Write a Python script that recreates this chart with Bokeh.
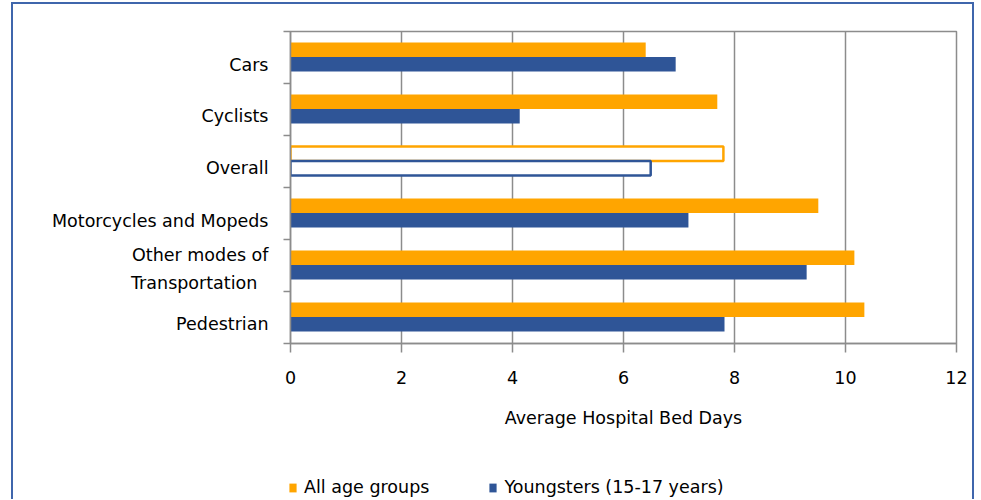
from bokeh.plotting import figure
from bokeh.layouts import column
from bokeh.models import Range1d, FixedTicker, Legend, LegendItem
from bokeh.embed import file_html
from bokeh.resources import INLINE

categories = ["Cars", "Cyclists", "Overall", "Motorcycles and Mopeds",
              "Other modes of Transportation", "Pedestrian"]
all_ages = [6.40, 7.69, 7.80, 9.51, 10.16, 10.34]
youngsters = [6.94, 4.13, 6.49, 7.17, 9.30, 7.82]
y_tick_labels = ["Cars", "Cyclists", "Overall", "Motorcycles and Mopeds",
                 "Other modes of", "Transportation\u00a0\u00a0", "Pedestrian"]
y_tick_pos = [0.635, 1.63, 2.63, 3.65, 4.29, 4.83, 5.63]
x_ticks = [0, 2, 4, 6, 8, 10, 12]
series_names = ["All age groups", "Youngsters (15-17 years)"]

ORANGE = "#FFA500"
BLUE = "#2F5597"
GRAY = "#8c8c8c"
BORDER = "#3F66AC"
FONT = "DejaVu Sans"
FS = "17.5px"

p = figure(width=963, height=441, output_backend="svg", toolbar_location=None,
           x_range=Range1d(0, 12), y_range=Range1d(6, 0),
           min_border_left=279, min_border_right=18, min_border_top=29,
           min_border_bottom=100, frame_width=666, frame_height=312)

n = len(categories)
idx_fill = [i for i in range(n) if categories[i] != "Overall"]
idx_out = [i for i in range(n) if categories[i] == "Overall"]

p.hbar(y=[i + 0.35 for i in idx_fill], right=[all_ages[i] for i in idx_fill], left=0,
       height=0.28, fill_color=ORANGE, line_color=None)
p.hbar(y=[i + 0.63 for i in idx_fill], right=[youngsters[i] for i in idx_fill], left=0,
       height=0.28, fill_color=BLUE, line_color=None)
p.hbar(y=[i + 0.35 for i in idx_out], right=[all_ages[i] for i in idx_out], left=0,
       height=0.28, fill_color="white", line_color=ORANGE, line_width=2.5)
p.hbar(y=[i + 0.63 for i in idx_out], right=[youngsters[i] for i in idx_out], left=0,
       height=0.28, fill_color="white", line_color=BLUE, line_width=2.5)

# grid / outline
p.xgrid.grid_line_color = GRAY
p.xgrid.grid_line_width = 1.5
p.ygrid.grid_line_color = None
p.outline_line_color = GRAY
p.outline_line_width = 1.5
p.background_fill_color = "white"
p.border_fill_color = None

# x axis
xa = p.xaxis[0]
xa.ticker = FixedTicker(ticks=x_ticks)
xa.axis_line_color = GRAY
xa.axis_line_width = 1.5
xa.major_tick_line_color = GRAY
xa.major_tick_line_width = 1.5
xa.major_tick_in = 0
xa.major_tick_out = 9
xa.minor_tick_line_color = None
xa.major_label_text_font = FONT
xa.major_label_text_font_size = FS
xa.major_label_text_color = "black"
xa.major_label_standoff = 18
xa.axis_label = "Average Hospital Bed Days"
xa.axis_label_text_font = FONT
xa.axis_label_text_font_size = FS
xa.axis_label_text_font_style = "normal"
xa.axis_label_text_color = "black"
xa.axis_label_standoff = 21

# y axis
ya = p.yaxis[0]
ya.ticker = FixedTicker(ticks=y_tick_pos, minor_ticks=list(range(n + 1)))
ya.major_label_overrides = {pos: lab for pos, lab in zip(y_tick_pos, y_tick_labels)}
ya.axis_line_color = GRAY
ya.axis_line_width = 1.5
ya.major_tick_line_color = None
ya.major_tick_out = 0
ya.major_tick_in = 0
ya.minor_tick_line_color = GRAY
ya.minor_tick_line_width = 1.5
ya.minor_tick_in = 0
ya.minor_tick_out = 7
ya.major_label_text_font = FONT
ya.major_label_text_font_size = FS
ya.major_label_text_color = "black"
ya.major_label_standoff = 15

# legend strip (its own small figure whose frame covers it entirely);
# the key renderers hold a single placeholder lying outside the strip's range
p2 = figure(width=963, height=56, output_backend="svg", toolbar_location=None,
            x_range=Range1d(0, 1), y_range=Range1d(0, 1),
            min_border=0, frame_width=963, frame_height=56)
p2.axis.visible = False
p2.grid.grid_line_color = None
p2.outline_line_color = None
p2.background_fill_color = None
p2.border_fill_color = None
k_o = p2.hbar(y=[-5], right=[-4], left=-5, height=0.28, fill_color=ORANGE, line_color=None)
k_b = p2.hbar(y=[-5], right=[-4], left=-5, height=0.28, fill_color=BLUE, line_color=None)

legend = Legend(items=[LegendItem(label=series_names[0], renderers=[k_o]),
                       LegendItem(label=series_names[1], renderers=[k_b])],
                orientation="horizontal", location=(277, 2),
                padding=0, margin=0, spacing=59, label_standoff=7,
                glyph_width=9, glyph_height=11, label_height=20,
                label_text_font=FONT, label_text_font_size=FS,
                label_text_color="black",
                border_line_color=None, background_fill_alpha=0)
p2.add_layout(legend)

layout = column(p, p2, spacing=0)
layout.styles = {"margin-left": "11px", "margin-top": "2px", "margin-bottom": "-1px",
                 "background": "white",
                 "box-shadow": f"inset 2px 0 0 {BORDER}, inset -2px 0 0 {BORDER}, inset 0 2px 0 {BORDER}"}

open("out.html", "w").write(file_html(layout, INLINE))
